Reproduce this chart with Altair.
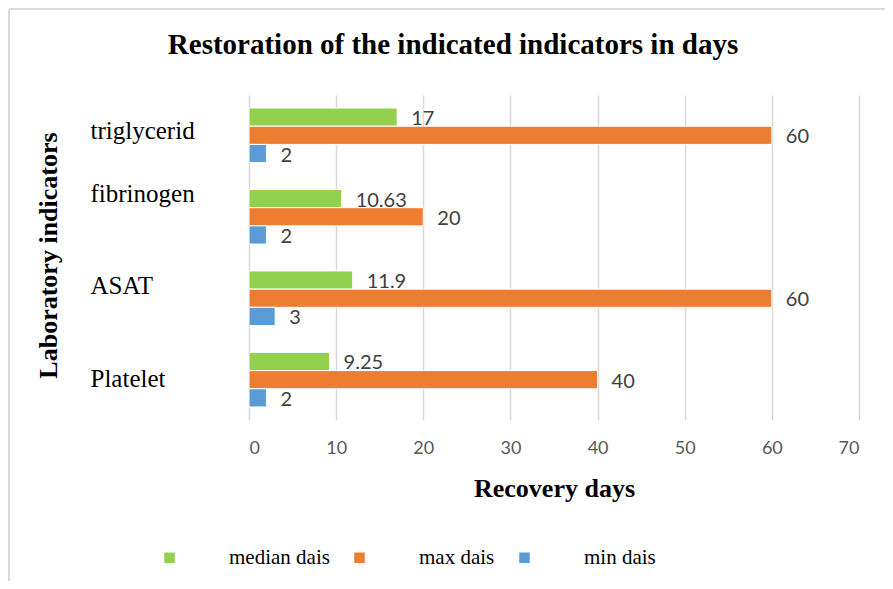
import altair as alt
import pandas as pd

categories = ["triglycerid", "fibrinogen", "ASAT", "Platelet"]
series = ["median dais", "max dais", "min dais"]
median_vals = [17, 10.63, 11.9, 9.25]
max_vals = [60, 20, 60, 40]
min_vals = [2, 2, 3, 2]
colors = ["#92D050", "#ED7D31", "#5B9BD5"]
chart_title = "Restoration of the indicated indicators in days"

rows = []
for i, c in enumerate(categories):
    for s, vals in zip(series, [median_vals, max_vals, min_vals]):
        rows.append({"indicator": c, "series": s, "days": vals[i], "label": f"{vals[i]:g}"})
df = pd.DataFrame(rows)

serif = "Liberation Serif"
sans = "Lato"

y_enc = alt.Y(
    "indicator:N",
    sort=categories,
    scale=alt.Scale(paddingInner=0.33, paddingOuter=0.16),
    axis=alt.Axis(
        title="Laboratory indicators",
        titleFont=serif,
        titleFontSize=26,
        titleFontWeight="bold",
        titleColor="#000000",
        titleAngle=270,
        titleX=-201,
        titleY=160,
        titleAlign="center",
        titleBaseline="middle",
        labelFont=serif,
        labelFontSize=25,
        labelColor="#000000",
        labelAlign="left",
        labelBaseline="middle",
        labelPadding=159,
        labelOffset={"expr": "datum.value == 'fibrinogen' ? -23 : datum.value == 'ASAT' ? -12 : datum.value == 'triglycerid' ? -4 : -1"},
        ticks=False,
        domain=False,
        grid=False,
    ),
)

x_enc = alt.X(
    "days:Q",
    scale=alt.Scale(domain=[0, 70], nice=False),
    axis=alt.Axis(
        values=[0, 10, 20, 30, 40, 50, 60, 70],
        title="Recovery days",
        titleFont=serif,
        titleFontSize=26,
        titleFontWeight="bold",
        titleColor="#000000",
        titlePadding=18,
        labelFont=sans,
        labelFontSize=18,
        labelColor="#595959",
        labelPadding=19,
        ticks=False,
        domain=False,
        grid=True,
        gridColor="#d9d9d9",
        gridWidth=1.5,
    ),
)

yoff = alt.YOffset("series:N", sort=series)

bars = alt.Chart(df).mark_bar(stroke="white", strokeWidth=1).encode(
    x=x_enc,
    y=y_enc,
    yOffset=yoff,
    color=alt.Color(
        "series:N",
        sort=series,
        scale=alt.Scale(domain=series, range=colors),
        legend=alt.Legend(
            title=None,
            orient="none",
            direction="horizontal",
            legendX=-90,
            legendY=452,
            symbolType="square",
            symbolSize=110,
            symbolStrokeWidth=0,
            labelFont=serif,
            labelFontSize=21,
            labelColor="#000000",
            labelOffset=49,
            columnPadding=19,
        ),
    ),
)

text = alt.Chart(df).mark_text(
    align="left", baseline="middle", dx=14, dy=2, font=sans, fontSize=20, color="#404040"
).encode(
    x="days:Q",
    y=alt.Y("indicator:N", sort=categories),
    yOffset=yoff,
    text="label:N",
)

one = pd.DataFrame({"t": [chart_title]})
title_mark = alt.Chart(one).mark_text(
    font=serif, fontSize=29, fontWeight="bold", color="#000000", align="center", baseline="middle"
).encode(x=alt.value(204), y=alt.value(-50), text="t:N")

frame_color = "#d9d9d9"
f_left = alt.Chart(one).mark_rule(color=frame_color, strokeWidth=2).encode(
    x=alt.value(-240), y=alt.value(-86), y2=alt.value(486))
f_top = alt.Chart(one).mark_rule(color=frame_color, strokeWidth=2).encode(
    y=alt.value(-86), x=alt.value(-240), x2=alt.value(636))

chart = alt.layer(f_left, f_top, bars, text, title_mark).properties(
    width=610,
    height=325,
    background="white",
    autosize=alt.AutoSizeParams(type="none"),
    padding={"left": 241, "top": 87, "right": 26, "bottom": 161},
).configure_view(stroke=None)

chart.save("out.html", embed_options={"renderer": "svg", "actions": False})
